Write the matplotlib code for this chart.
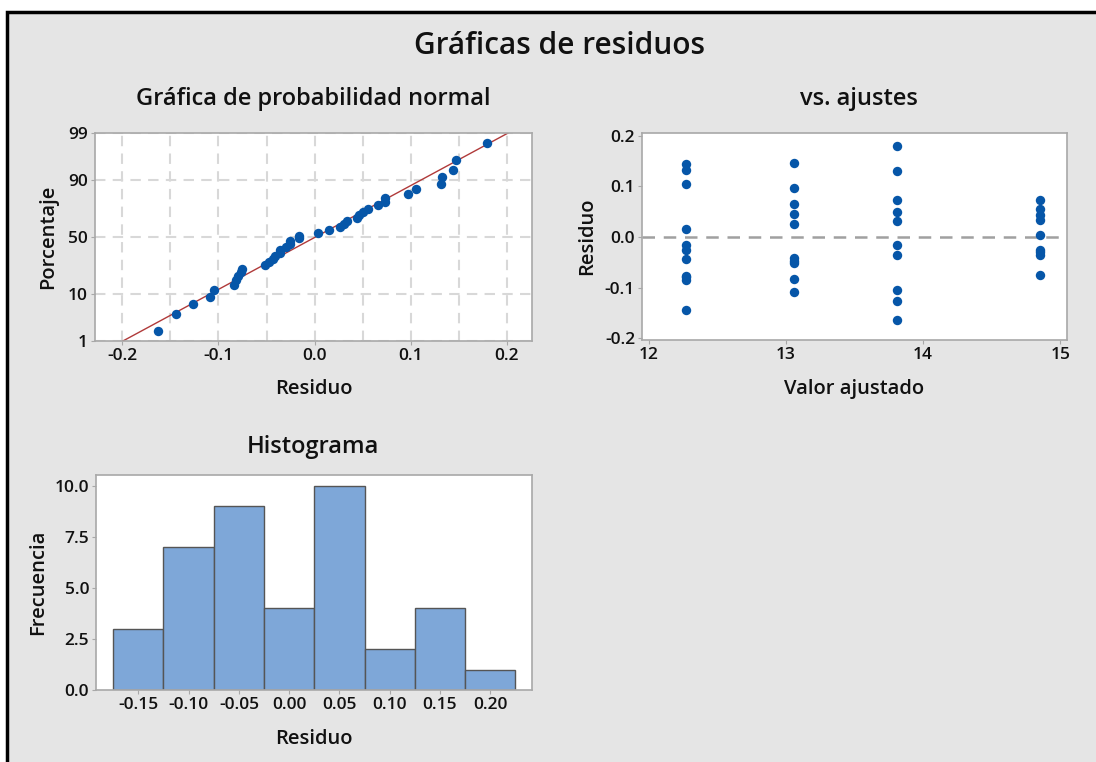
import numpy as np
import matplotlib
matplotlib.use('Agg')
import matplotlib.pyplot as plt
from matplotlib.patches import Rectangle
from statistics import NormalDist

plt.rcParams['font.family'] = ['Open Sans', 'DejaVu Sans']

# residuals grouped by fitted value
fit_values = [12.27, 13.06, 13.81, 14.85]
res_g1 = [0.144, 0.132, 0.105, 0.015, -0.016, -0.026, -0.043, -0.077, -0.080, -0.084, -0.144]
res_g2 = [0.147, 0.097, 0.066, 0.046, 0.026, -0.041, -0.047, -0.052, -0.082, -0.109]
res_g3 = [0.179, 0.131, 0.073, 0.050, 0.031, -0.016, -0.036, -0.105, -0.127, -0.163]
res_g4 = [0.073, 0.055, 0.044, 0.034, 0.003, -0.026, -0.030, -0.036, -0.076]
groups = [res_g1, res_g2, res_g3, res_g4]

hist_edges = [-0.175, -0.125, -0.075, -0.025, 0.025, 0.075, 0.125, 0.175, 0.225]
pct_ticks = [1, 10, 50, 90, 99]

resid = np.array(res_g1 + res_g2 + res_g3 + res_g4)
fitted = np.concatenate([[f] * len(g) for f, g in zip(fit_values, groups)])

W, H = 1096, 762
BG = '#e5e5e5'
SPINE = '#a8a8a8'
BLUE = '#0656a8'
TXT = '#111111'

fig = plt.figure(figsize=(W / 100, H / 100), dpi=100, facecolor='white')
fig.patches.append(Rectangle((7 / W, -0.05), 1.2, 1 - 12 / H + 0.05, transform=fig.transFigure,
                             facecolor=BG, edgecolor='black', linewidth=2.5, zorder=-5))


def add_ax(l, r, t, b):
    ax = fig.add_axes([l / W, 1 - b / H, (r - l) / W, (b - t) / H])
    ax.set_facecolor('white')
    for s in ax.spines.values():
        s.set_color(SPINE)
        s.set_linewidth(1.2)
    ax.tick_params(direction='out', length=3, color=SPINE, labelsize=12.5,
                   labelcolor=TXT, pad=2)
    return ax


def labels(ax, xl, yl, xy, yx):
    ax.set_xlabel(xl, fontsize=14.5, fontweight='semibold', color=TXT, va='center')
    ax.set_ylabel(yl, fontsize=14.5, fontweight='semibold', color=TXT, va='center')
    ax.xaxis.set_label_coords(0.5, xy)
    ax.yaxis.set_label_coords(yx, 0.5)


def semibold_ticks(ax):
    for lab in ax.get_xticklabels() + ax.get_yticklabels():
        lab.set_fontweight('semibold')


fig.text(559 / W, 1 - 46 / H, 'Gráficas de residuos', ha='center', va='center',
         fontsize=21.5, fontweight='semibold', color=TXT)

# --- normal probability plot
ax1 = add_ax(95, 532, 133, 341)
nd = NormalDist()
n = len(resid)
xs = np.sort(resid)
zs = np.array([nd.inv_cdf((i - 0.3) / (n + 0.4)) for i in range(1, n + 1)])
zlo, zhi = nd.inv_cdf(0.01), nd.inv_cdf(0.99)
mu, sd = resid.mean(), resid.std(ddof=1)
zl = np.array([zlo, zhi])
ax1.plot(mu + sd * zl, zl, color='#b03a3a', lw=1, zorder=2)
ax1.scatter(xs, zs, s=46, color=BLUE, zorder=3, linewidths=0)
ax1.set_xlim(-0.2284, 0.226)
ax1.set_ylim(zlo, zhi)
ax1.set_xticks([-0.2, -0.1, 0.0, 0.1, 0.2])
ax1.set_xticklabels(['-0.2', '-0.1', '0.0', '0.1', '0.2'])
ax1.set_xticks(np.arange(-0.2, 0.201, 0.05), minor=True)
ax1.tick_params(axis='x', which='minor', length=0)
ax1.set_yticks([nd.inv_cdf(p / 100) for p in pct_ticks])
ax1.set_yticklabels([str(p) for p in pct_ticks])
ax1.grid(True, which='both', color='#d8d8d8', lw=1.5, ls=(0, (5, 3.5)), zorder=1)
semibold_ticks(ax1)
labels(ax1, 'Residuo', 'Porcentaje', -0.231, -0.108)
fig.text(313 / W, 1 - 99 / H, 'Gráfica de probabilidad normal', ha='center', va='center',
         fontsize=17, fontweight='semibold', color=TXT)

# --- versus fits
ax2 = add_ax(642, 1067, 133, 340)
ax2.axhline(0, color='#a0a0a0', lw=1.8, ls=(0, (5, 3.5)), zorder=1)
ax2.scatter(fitted, resid, s=46, color=BLUE, zorder=3, linewidths=0)
ax2.set_xlim(11.952, 15.049)
ax2.set_ylim(-0.2034, 0.2053)
ax2.set_xticks([12, 13, 14, 15])
ax2.set_yticks([-0.2, -0.1, 0.0, 0.1, 0.2])
ax2.set_yticklabels(['-0.2', '-0.1', '0.0', '0.1', '0.2'])
semibold_ticks(ax2)
labels(ax2, 'Valor ajustado', 'Residuo', -0.237, -0.129)
fig.text(859 / W, 1 - 99 / H, 'vs. ajustes', ha='center', va='center',
         fontsize=17, fontweight='semibold', color=TXT)

# --- histogram
ax3 = add_ax(96, 532, 475, 690)
ax3.hist(resid, bins=hist_edges, color='#7ea7d8', edgecolor='#555555', linewidth=1, zorder=2)
ax3.set_xlim(-0.1921, 0.2415)
ax3.set_ylim(0, 10.54)
ax3.set_xticks([-0.15, -0.10, -0.05, 0.0, 0.05, 0.10, 0.15, 0.20])
ax3.set_xticklabels(['-0.15', '-0.10', '-0.05', '0.00', '0.05', '0.10', '0.15', '0.20'])
ax3.set_yticks([0, 2.5, 5, 7.5, 10])
ax3.set_yticklabels(['0.0', '2.5', '5.0', '7.5', '10.0'])
semibold_ticks(ax3)
labels(ax3, 'Residuo', 'Frecuencia', -0.228, -0.133)
fig.text(313 / W, 1 - 447 / H, 'Histograma', ha='center', va='center',
         fontsize=17, fontweight='semibold', color=TXT)

fig.savefig('out.png', dpi=100, facecolor='white')
